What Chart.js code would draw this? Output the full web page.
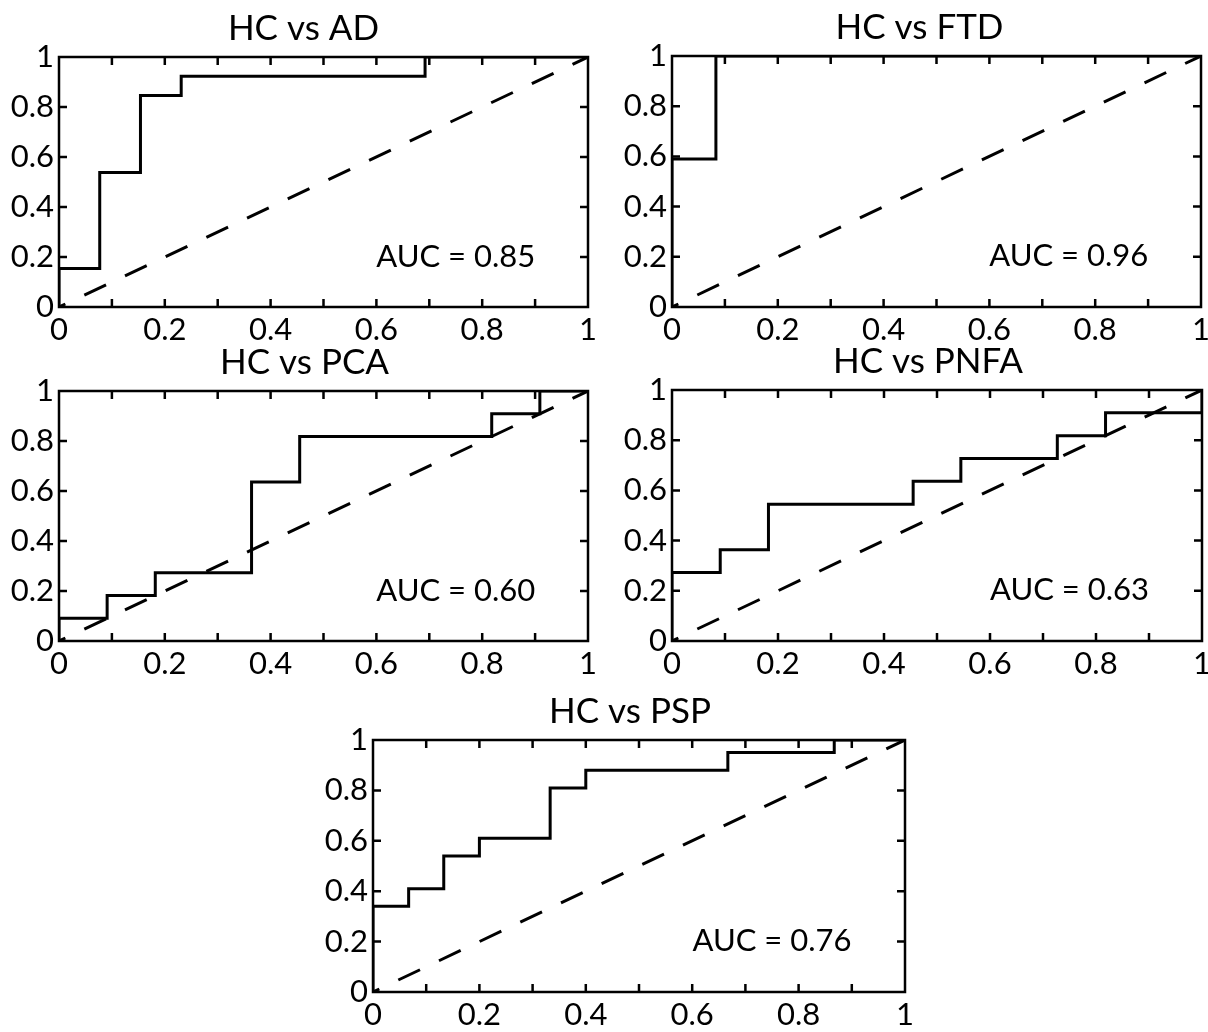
<!DOCTYPE html>
<html>
<head>
<meta charset="utf-8">
<script src="https://cdn.jsdelivr.net/npm/chart.js@4.4.0/dist/chart.umd.min.js"></script>
<style>
  body { margin: 0; background: #fff; width: 1208px; height: 1032px; position: relative; overflow: hidden; }
  canvas { position: absolute; }
</style>
</head>
<body>
<canvas id="adChart" width="610" height="345" style="left:0;top:0"></canvas>
<canvas id="ftdChart" width="595" height="345" style="left:613px;top:0"></canvas>
<canvas id="pcaChart" width="610" height="345" style="left:0;top:345px"></canvas>
<canvas id="pnfaChart" width="595" height="345" style="left:613px;top:345px"></canvas>
<canvas id="pspChart" width="620" height="342" style="left:300px;top:690px"></canvas>
<script>
// chance line
const diagX = [0, 1];
const diagY = [0, 1];

// ROC curves (false positive rate, true positive rate)
const adFpr = [0, 0, 0.077, 0.154, 0.231, 0.692, 1];
const adTpr = [0, 0.154, 0.538, 0.846, 0.923, 1, 1];

const ftdFpr = [0, 0, 0.083, 1];
const ftdTpr = [0, 0.59, 1, 1];

const pcaFpr = [0, 0, 0.091, 0.182, 0.364, 0.455, 0.818, 0.909, 1];
const pcaTpr = [0, 0.091, 0.182, 0.273, 0.636, 0.818, 0.909, 1, 1];

const pnfaFpr = [0, 0, 0.091, 0.182, 0.455, 0.545, 0.727, 0.818, 1];
const pnfaTpr = [0, 0.273, 0.364, 0.545, 0.636, 0.727, 0.818, 0.909, 1];

const pspFpr = [0, 0, 0.067, 0.133, 0.2, 0.333, 0.4, 0.667, 0.867, 1];
const pspTpr = [0, 0.34, 0.41, 0.54, 0.61, 0.81, 0.88, 0.95, 1, 1];

// ticks
const xTickValues = [0, 0.1, 0.2, 0.3, 0.4, 0.5, 0.6, 0.7, 0.8, 0.9, 1];
const xTickLabels = ['0', '', '0.2', '', '0.4', '', '0.6', '', '0.8', '', '1'];
const yTickValues = [0, 0.2, 0.4, 0.6, 0.8, 1];
const yTickLabels = ['0', '0.2', '0.4', '0.6', '0.8', '1'];

const FONT = 'Lato';

// box, inward ticks, title and AUC text
const framePlugin = {
    id: 'frame',
    afterDraw(chart, args, opts) {
        const { ctx, chartArea: a, scales: { x, y } } = chart;
        ctx.save();
        ctx.strokeStyle = '#000';
        ctx.lineWidth = 2.5;
        ctx.strokeRect(a.left, a.top, a.right - a.left, a.bottom - a.top);
        ctx.beginPath();
        x.ticks.forEach(t => {
            if (t.value <= 0 || t.value >= 1) return;
            const px = x.getPixelForValue(t.value);
            ctx.moveTo(px, a.bottom); ctx.lineTo(px, a.bottom - 8);
            ctx.moveTo(px, a.top); ctx.lineTo(px, a.top + 8);
        });
        y.ticks.forEach(t => {
            if (t.value <= 0 || t.value >= 1) return;
            const py = y.getPixelForValue(t.value);
            ctx.moveTo(a.left, py); ctx.lineTo(a.left + 8, py);
            ctx.moveTo(a.right, py); ctx.lineTo(a.right - 8, py);
        });
        ctx.stroke();
        ctx.fillStyle = '#000';
        ctx.textAlign = 'center';
        ctx.textBaseline = 'alphabetic';
        ctx.font = '35px ' + FONT;
        ctx.fillText(opts.title, (a.left + a.right) / 2 + opts.titleShift, a.top - 17);
        ctx.font = '31px ' + FONT;
        ctx.fillText(opts.auc, x.getPixelForValue(0.75), y.getPixelForValue(0.162));
        ctx.restore();
    }
};

function makeRoc(id, fpr, tpr, title, auc, box) {
    const ctx = document.getElementById(id).getContext('2d');
    return new Chart(ctx, {
        type: 'line',
        data: {
            datasets: [{
                data: fpr.map((v, i) => ({ x: v, y: tpr[i] })),
                borderColor: '#000',
                borderWidth: 3,
                stepped: 'before',
                pointRadius: 0,
                fill: false
            }, {
                data: diagX.map((v, i) => ({ x: v, y: diagY[i] })),
                borderColor: '#000',
                borderWidth: 3,
                borderDash: [24, 21],
                borderDashOffset: 17,
                pointRadius: 0,
                fill: false
            }]
        },
        options: {
            responsive: false,
            animation: false,
            layout: { padding: { top: box.top, right: box.right, bottom: 0, left: 0 } },
            plugins: {
                legend: { display: false },
                tooltip: { enabled: false },
                frame: { title: title, auc: auc, titleShift: box.shift }
            },
            scales: {
                x: {
                    type: 'linear', min: 0, max: 1,
                    afterBuildTicks: s => { s.ticks = xTickValues.map(v => ({ value: v })); },
                    afterFit: s => { s.height = box.xh; s.paddingLeft = 0; s.paddingRight = 0; },
                    grid: { display: false, drawTicks: false },
                    border: { display: false },
                    ticks: {
                        callback: (v, i) => xTickLabels[i],
                        autoSkip: false, maxRotation: 0,
                        padding: 4, color: '#000',
                        font: { family: FONT, size: 31 }
                    }
                },
                y: {
                    type: 'linear', min: 0, max: 1,
                    afterBuildTicks: s => { s.ticks = yTickValues.map(v => ({ value: v })); },
                    afterFit: s => { s.width = box.yw; s.paddingTop = 0; s.paddingBottom = 0; },
                    grid: { display: false, drawTicks: false },
                    border: { display: false },
                    ticks: {
                        callback: (v, i) => yTickLabels[i],
                        autoSkip: false,
                        padding: 5, color: '#000',
                        font: { family: FONT, size: 31 }
                    }
                }
            }
        },
        plugins: [framePlugin]
    });
}

makeRoc('adChart', adFpr, adTpr, 'HC vs AD', 'AUC = 0.85', { top: 57, right: 22, xh: 38, yw: 59, shift: -20 });
makeRoc('ftdChart', ftdFpr, ftdTpr, 'HC vs FTD', 'AUC = 0.96', { top: 56, right: 7, xh: 38, yw: 59, shift: -17 });
makeRoc('pcaChart', pcaFpr, pcaTpr, 'HC vs PCA', 'AUC = 0.60', { top: 46, right: 22, xh: 49, yw: 59, shift: -19 });
makeRoc('pnfaChart', pnfaFpr, pnfaTpr, 'HC vs PNFA', 'AUC = 0.63', { top: 45, right: 6, xh: 49, yw: 59, shift: -9 });
makeRoc('pspChart', pspFpr, pspTpr, 'HC vs PSP', 'AUC = 0.76', { top: 50, right: 15, xh: 40, yw: 73, shift: -9 });
</script>
</body>
</html>
